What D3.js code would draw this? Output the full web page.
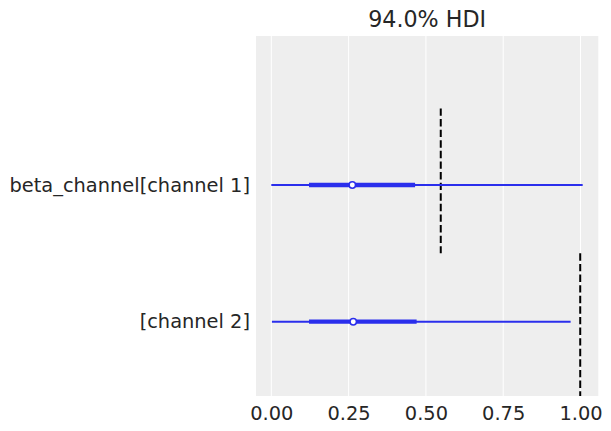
<!DOCTYPE html>
<html>
<head>
  <meta charset="utf-8">
  <style>
    body { margin: 0; background: #fff; }
    svg text { font-family: "DejaVu Sans", sans-serif; fill: #262626; }
    .grid line { stroke: #fff; stroke-width: 1; }
  </style>
  <script src="https://d3js.org/d3.v7.min.js"></script>
</head>
<body>
  <script>
    // rows, top to bottom
    var labels = ["beta_channel[channel 1]", "[channel 2]"];
    var rowPos = [1, 0];
    // 94% HDI (thin) and 50% interval (thick), median
    var hdiLow = [0.0, 0.002];
    var hdiHigh = [1.007, 0.968];
    var iqrLow = [0.122, 0.122];
    var iqrHigh = [0.465, 0.47];
    var medians = [0.262, 0.265];
    // dashed reference lines: value and vertical extent (in row units)
    var refValues = [0.548, 0.999];
    var refFrom = [0.5, -0.55];
    var refTo = [1.56, 0.5];
    var xTicks = [0, 0.25, 0.5, 0.75, 1.0];

    var W = 611, H = 431;
    var plot = { left: 256, right: 598.3, top: 36, bottom: 396 };
    var BLUE = "#2a2eec";

    var x = d3.scaleLinear().domain([-0.0495, 1.0575]).range([plot.left, plot.right]);
    var y = d3.scaleLinear().domain([-0.5435, 2.09]).range([plot.bottom, plot.top]);

    var svg = d3.select("body").append("svg")
      .attr("width", W)
      .attr("height", H);

    svg.append("rect")
      .attr("x", plot.left).attr("y", plot.top)
      .attr("width", plot.right - plot.left)
      .attr("height", plot.bottom - plot.top)
      .attr("fill", "#eeeeee");

    svg.append("g").attr("class", "grid")
      .selectAll("line").data(xTicks).enter().append("line")
      .attr("x1", function(d) { return x(d); })
      .attr("x2", function(d) { return x(d); })
      .attr("y1", plot.top).attr("y2", plot.bottom);

    var rows = labels.map(function(l, i) {
      return { label: l, y: rowPos[i], lo: hdiLow[i], hi: hdiHigh[i],
               qlo: iqrLow[i], qhi: iqrHigh[i], med: medians[i],
               ref: refValues[i], r0: refFrom[i], r1: refTo[i] };
    });

    // reference lines
    svg.selectAll(".ref").data(rows).enter().append("line")
      .attr("class", "ref")
      .attr("x1", function(d) { return x(d.ref); })
      .attr("x2", function(d) { return x(d.ref); })
      .attr("y1", function(d) { return y(d.r1); })
      .attr("y2", function(d) { return Math.min(y(d.r0), plot.bottom); })
      .attr("stroke", "#000")
      .attr("stroke-width", 2)
      .attr("stroke-dasharray", "7.4,3.2");

    var g = svg.selectAll(".row").data(rows).enter().append("g").attr("class", "row");

    g.append("line")
      .attr("x1", function(d) { return x(d.lo); })
      .attr("x2", function(d) { return x(d.hi); })
      .attr("y1", function(d) { return y(d.y); })
      .attr("y2", function(d) { return y(d.y); })
      .attr("stroke", BLUE).attr("stroke-width", 2);

    g.append("line")
      .attr("x1", function(d) { return x(d.qlo); })
      .attr("x2", function(d) { return x(d.qhi); })
      .attr("y1", function(d) { return y(d.y); })
      .attr("y2", function(d) { return y(d.y); })
      .attr("stroke", BLUE).attr("stroke-width", 4.3);

    g.append("circle")
      .attr("cx", function(d) { return x(d.med); })
      .attr("cy", function(d) { return y(d.y); })
      .attr("r", 3.2)
      .attr("fill", "#fff")
      .attr("stroke", BLUE).attr("stroke-width", 1.5);

    // y labels
    svg.selectAll(".ylab").data(rows).enter().append("text")
      .attr("class", "ylab")
      .attr("x", 250)
      .attr("y", function(d) { return y(d.y); })
      .attr("dy", "0.35em")
      .attr("text-anchor", "end")
      .style("font-size", "19.4px")
      .text(function(d) { return d.label; });

    // x axis
    var xAxis = d3.axisBottom(x).tickValues(xTicks).tickSize(0).tickPadding(10)
      .tickFormat(d3.format(".2f"));
    var ax = svg.append("g")
      .attr("transform", "translate(0," + plot.bottom + ")")
      .call(xAxis);
    ax.select(".domain").remove();
    ax.selectAll("text")
      .style("font-family", "DejaVu Sans, sans-serif")
      .style("font-size", "19.4px")
      .attr("fill", "#262626");

    svg.append("text")
      .attr("x", (plot.left + plot.right) / 2)
      .attr("y", 27)
      .attr("text-anchor", "middle")
      .style("font-size", "22.2px")
      .text("94.0% HDI");
  </script>
</body>
</html>
